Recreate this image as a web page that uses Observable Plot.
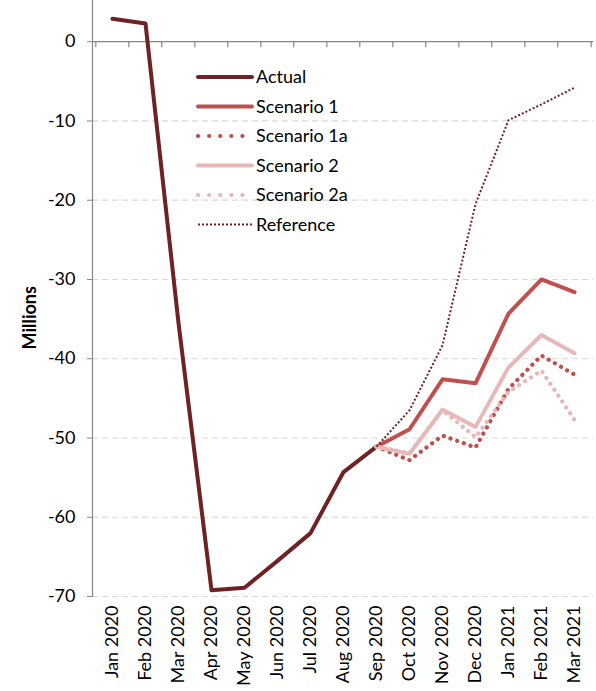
<!DOCTYPE html>
<html><head><meta charset="utf-8">
<script src="https://cdn.jsdelivr.net/npm/d3@7"></script>
<script src="https://cdn.jsdelivr.net/npm/@observablehq/plot@0.6"></script>
<style>
body{margin:0;background:#fff;font-family:Lato,sans-serif}
#chart{position:relative;width:596px;height:691px}
#legend{position:absolute;left:0;top:0;pointer-events:none}
</style></head><body><div id="chart"></div>
<script>
const months = ["Jan 2020","Feb 2020","Mar 2020","Apr 2020","May 2020","Jun 2020","Jul 2020","Aug 2020","Sep 2020","Oct 2020","Nov 2020","Dec 2020","Jan 2021","Feb 2021","Mar 2021"];
const yTicks = [0, -10, -20, -30, -40, -50, -60, -70];
// Actual: Jan 2020 – Sep 2020
const actual = [2.9, 2.3, -35.5, -69.2, -68.9, -65.5, -62.0, -54.3, -51.1];
// Projections: Sep 2020 – Mar 2021
const scenario1  = [-51.1, -48.9, -42.6, -43.1, -34.3, -30.0, -31.6];
const scenario1a = [-51.1, -52.8, -49.7, -51.2, -43.8, -39.6, -42.0];
const scenario2  = [-51.1, -52.0, -46.4, -48.6, -41.1, -37.0, -39.3];
const scenario2a = [-51.1, -51.9, -46.5, -49.9, -44.2, -41.5, -47.7];
const reference  = [-51.1, -46.5, -38.3, -20.5, -9.9, -7.9, -5.8];

const seriesNames = ["Actual","Scenario 1","Scenario 1a","Scenario 2","Scenario 2a","Reference"];
const seriesValues = [actual, scenario1, scenario1a, scenario2, scenario2a, reference];
const seriesStart = [0, 8, 8, 8, 8, 8];
const styles = {
  "Actual":      {stroke:"#6E2224", strokeWidth:4,   dash:null, cap:"round", legendDash:null},
  "Scenario 1":  {stroke:"#C0504D", strokeWidth:4,   dash:null, cap:"round", legendDash:null},
  "Scenario 1a": {stroke:"#C0504D", strokeWidth:4.2, dash:"0.1 7", cap:"round", legendDash:"0.1 11"},
  "Scenario 2":  {stroke:"#E6B9B8", strokeWidth:4,   dash:null, cap:"round", legendDash:null},
  "Scenario 2a": {stroke:"#E6B9B8", strokeWidth:4.2, dash:"0.1 7", cap:"round", legendDash:"0.1 11"},
  "Reference":   {stroke:"#6E2224", strokeWidth:2,   dash:"2 2", cap:"butt", legendDash:"2 2"}
};

const rows = [];
seriesNames.forEach((name, k) => {
  seriesValues[k].forEach((v, i) => rows.push({series: name, month: months[seriesStart[k] + i], value: v}));
});

const W = 596, H = 691, mL = 92, mR = 3, mT = 0, mB = 95;
const step = (W - mL - mR) / months.length;
const axisColor = "#868686";

const lineMarks = seriesNames.map(name => {
  const s = styles[name];
  return Plot.line(rows.filter(r => r.series === name), {
    x: "month", y: "value", stroke: s.stroke, strokeWidth: s.strokeWidth,
    strokeDasharray: s.dash || undefined, strokeLinecap: s.cap, strokeLinejoin: "round"
  });
});

const chart = Plot.plot({
  width: W, height: H, marginLeft: mL, marginRight: mR, marginTop: mT, marginBottom: mB,
  style: {fontFamily: "Lato, sans-serif", fontSize: "18px", color: "#000", background: "#fff"},
  x: {type: "point", domain: months, padding: 0.5},
  y: {domain: [-70, 5.2]},
  marks: [
    Plot.ruleY(yTicks.filter(t => t !== 0), {y: d => d, stroke: "#D9D9D9", strokeWidth: 1.2, strokeDasharray: "6 4"}),
    Plot.ruleY([0], {y: d => d, stroke: axisColor, strokeWidth: 1.2}),
    Plot.frame({anchor: "left", stroke: axisColor, strokeWidth: 1.2}),
    Plot.ruleX(months, {x: d => d, y1: 0, y2: -0.75, dx: -step / 2, stroke: axisColor, strokeWidth: 1.2}),
    Plot.ruleX(months.slice(-1), {x: d => d, y1: 0, y2: -0.75, dx: step / 2, stroke: axisColor, strokeWidth: 1.2}),
    Plot.axisY({ticks: yTicks, tickSize: 5, tickPadding: 12, tickFormat: d => String(d), stroke: axisColor, label: null, fontSize: 18}),
    Plot.axisX({tickSize: 0, tickRotate: -90, tickPadding: 9, label: null, fontSize: 18}),
    Plot.text(["Millions"], {text: d => d, frameAnchor: "left", rotate: -90, dx: -62, dy: 51, fontWeight: "bold", fontSize: 18}),
    ...lineMarks
  ]
});
document.getElementById("chart").appendChild(chart);

// Legend overlay (inside plot area)
const lg = d3.select("#chart").append("svg").attr("id", "legend").attr("width", W).attr("height", H);
const lx0 = 198, lx1 = 252, ly0 = 77, ldy = 29.5;
seriesNames.forEach((name, i) => {
  const s = styles[name];
  const y = ly0 + i * ldy;
  lg.append("line").attr("x1", lx0).attr("x2", lx1).attr("y1", y).attr("y2", y)
    .attr("stroke", s.stroke).attr("stroke-width", s.strokeWidth)
    .attr("stroke-linecap", s.cap)
    .attr("stroke-dasharray", s.legendDash);
  lg.append("text").attr("x", 256).attr("y", y).attr("dy", "0.36em")
    .attr("font-family", "Lato, sans-serif").attr("font-size", 18).attr("fill", "#000")
    .text(name);
});
</script></body></html>
